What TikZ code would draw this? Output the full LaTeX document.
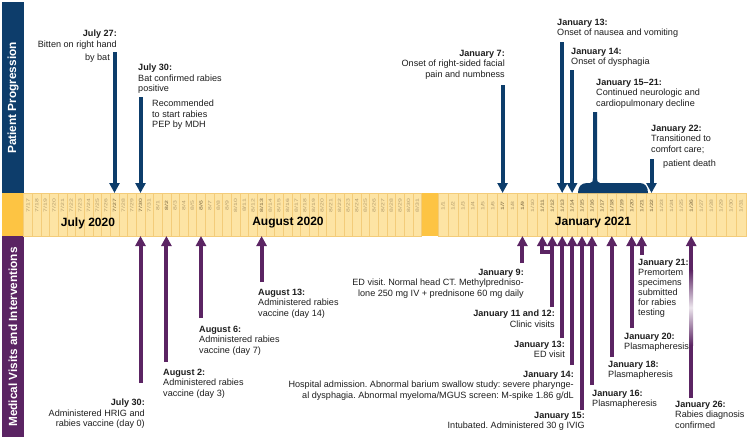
\documentclass[tikz,border=0pt]{standalone}
\usepackage{fontspec}
\setmainfont{Liberation Sans}
\usetikzlibrary{arrows.meta}
\definecolor{pblue}{HTML}{0D3D6B}
\definecolor{ppurple}{HTML}{5B2463}
\definecolor{oDark}{HTML}{FDC443}
\definecolor{oLight}{HTML}{FDE4A4}
\definecolor{oLine}{HTML}{F3CC7A}
\definecolor{dtext}{HTML}{B39C6C}
\definecolor{dtextB}{HTML}{7A6640}
\definecolor{txt}{HTML}{1E1E1E}
\frenchspacing
\begin{document}
\begin{tikzpicture}[x=1pt,y=-1pt,
  lbl/.style={inner sep=0pt, font=\fontsize{9.1}{10.6}\selectfont, text=txt},
  lblL/.style={lbl, anchor=north west, align=left},
  lblR/.style={lbl, anchor=north east, align=right},
  downarr/.style={draw=pblue, line width=4pt, -{Triangle[width=10pt,length=10pt]}},
  uparr/.style={draw=ppurple, line width=4pt, -{Triangle[width=10pt,length=10pt]}},
  datelbl/.style={inner sep=0pt, rotate=90, font=\fontsize{4.6}{5}\selectfont},
  sidelbl/.style={inner sep=0pt, rotate=90, text=white, font=\bfseries\fontsize{11.8}{13}\selectfont},
  monthlbl/.style={inner sep=0pt, text=black, font=\bfseries\fontsize{12}{14}\selectfont},
  cell/.style={fill=oLight, draw=oLine, line width=0.5pt}]
\useasboundingbox[fill=white] (0,0) rectangle (750,440);

% left column
\fill[pblue] (2,2) rectangle (24,193);
\fill[oDark] (2,193) rectangle (24,236);
\fill[ppurple] (2,236) rectangle (24,437);
\node[sidelbl] (pp) at (13,98) {Patient Progression};
\node[sidelbl] (mv) at (13,337) {Medical Visits and Interventions};

% July-August cells
\foreach \i in {0,...,45}{
  \pgfmathsetmacro\xl{23.7+8.65*\i}
  \pgfmathsetmacro\xr{\xl+8.65}
  \path[cell] (\xl,193) rectangle (\xr,236);
}
% gap cell
\fill[oDark] (421.6,193) rectangle (438,236);
% January cells
\foreach \j in {0,...,30}{
  \pgfmathsetmacro\xl{438+9.93*\j}
  \pgfmathsetmacro\xr{\xl+9.93}
  \path[cell] (\xl,193) rectangle (\xr,236);
}
% date labels
\foreach \i in {0,...,45}{
  \pgfmathsetmacro\xc{28+8.65*\i}
  \pgfmathtruncatemacro\dd{ifthenelse(\i<15,17+\i,\i-14)}
  \pgfmathtruncatemacro\mm{ifthenelse(\i<15,7,8)}
  \pgfmathtruncatemacro\ev{(\i==10)||(\i==13)||(\i==16)||(\i==20)||(\i==27)}
  \ifnum\ev=1 \def\dc{dtextB}\else\def\dc{dtext}\fi
  \node[datelbl, text=\dc] (da\i) at (\xc,205.5) {\scalebox{1.5}[1]{\mm/\dd}};
}
\foreach \j in {0,...,30}{
  \pgfmathsetmacro\xc{443+9.93*\j}
  \pgfmathtruncatemacro\dd{\j+1}
  \pgfmathtruncatemacro\ev{(\j==6)||(\j==8)||((\j>9)&&(\j<22))||(\j==25)}
  \ifnum\ev=1 \def\dc{dtextB}\else\def\dc{dtext}\fi
  \node[datelbl, text=\dc] (db\j) at (\xc,206) {\scalebox{1.5}[1]{1/\dd}};
}
\node[monthlbl] (jul) at (88,223) {July 2020};
\node[monthlbl] (aug) at (288,223) {August 2020};
\node[monthlbl] (jan) at (593,223) {January 2021};

% ---------- top events ----------
\coordinate (t727s) at (114.5,52);  \coordinate (t727e) at (114.5,193);
\coordinate (t730s) at (140.5,97);  \coordinate (t730e) at (140.5,193);
\coordinate (t17s) at (502.6,85);   \coordinate (t17e) at (502.6,193);
\coordinate (t113s) at (562.2,42);  \coordinate (t113e) at (562.2,193);
\coordinate (t114s) at (572.1,70);  \coordinate (t114e) at (572.1,193);
\coordinate (t122s) at (651.5,159); \coordinate (t122e) at (651.5,193);
\draw[downarr] (t727s) -- (t727e);
\draw[downarr] (t730s) -- (t730e);
\draw[downarr] (t17s) -- (t17e);
\draw[downarr] (t113s) -- (t113e);
\draw[downarr] (t114s) -- (t114e);
\draw[downarr] (t122s) -- (t122e);
% brace for January 15-21
\fill[pblue] (578,193) .. controls (578,187) and (581,183) .. (587,183) -- (590,183)
  .. controls (592.5,183) and (593,181) .. (593,178) -- (593,112) -- (597,112) -- (597,178)
  .. controls (597,181) and (597.5,183) .. (600,183) -- (640,183)
  .. controls (645,183) and (648,187) .. (648,193) -- cycle;

\node[lblR] (n727) at (117,29.7) {\textbf{July 27:}\\Bitten on right hand};
\node[lblR] (n727b) at (110,53.7) {by bat};
\node[lblL] (n730) at (138,63.7) {\textbf{July 30:}\\Bat confirmed rabies\\positive};
\node[lblL] (n730b) at (152,99.7) {Recommended\\to start rabies\\PEP by MDH};
\node[lblR] (n17) at (505,49.7) {\textbf{January 7:}\\Onset of right-sided facial\\pain and numbness};
\node[lblL] (n113) at (557,18.7) {\textbf{January 13:}\\Onset of nausea and vomiting};
\node[lblL] (n114) at (571,47.7) {\textbf{January 14:}\\Onset of dysphagia};
\node[lblL] (n11521) at (596,78.7) {\textbf{January 15–21:}\\Continued neurologic and\\cardiopulmonary decline};
\node[lblL] (n122) at (651,124.7) {\textbf{January 22:}\\Transitioned to\\comfort care;};
\node[lblL] (n122b) at (663,159.7) {patient death};

% ---------- bottom events ----------
\coordinate (b730s) at (140.5,383); \coordinate (b730e) at (140.5,236);
\coordinate (b82s) at (166.4,362);  \coordinate (b82e) at (166.4,236);
\coordinate (b86s) at (201,318);    \coordinate (b86e) at (201,236);
\coordinate (b813s) at (261.6,282); \coordinate (b813e) at (261.6,236);
\coordinate (b19s) at (522.4,263);  \coordinate (b19e) at (522.4,236);
\coordinate (b111k) at (542.3,252); \coordinate (b111e) at (542.3,236);
\coordinate (b112k) at (552.2,252);
\coordinate (b112s) at (552.2,307); \coordinate (b112e) at (552.2,236);
\coordinate (b113s) at (562.2,338); \coordinate (b113e) at (562.2,236);
\coordinate (b114s) at (572.1,365); \coordinate (b114e) at (572.1,236);
\coordinate (b115s) at (582,410);   \coordinate (b115e) at (582,236);
\coordinate (b116s) at (591.9,385); \coordinate (b116e) at (591.9,236);
\coordinate (b118s) at (611.8,357); \coordinate (b118e) at (611.8,236);
\coordinate (b120s) at (631.6,328); \coordinate (b120e) at (631.6,236);
\coordinate (b121s) at (641.6,255); \coordinate (b121e) at (641.6,236);
\coordinate (b126s) at (691.2,398); \coordinate (b126e) at (691.2,236);
\draw[uparr] (b730s) -- (b730e);
\draw[uparr] (b82s) -- (b82e);
\draw[uparr] (b86s) -- (b86e);
\draw[uparr] (b813s) -- (b813e);
\draw[uparr] (b19s) -- (b19e);
\draw[uparr] (b112s) -- (b112e);
\draw[uparr, line join=miter] (b112k) -- (b111k) -- (b111e);
\draw[uparr] (b113s) -- (b113e);
\draw[uparr] (b114s) -- (b114e);
\draw[uparr] (b115s) -- (b115e);
\draw[uparr] (b116s) -- (b116e);
\draw[uparr] (b118s) -- (b118e);
\draw[uparr] (b120s) -- (b120e);
\draw[uparr] (b121s) -- (b121e);
\draw[uparr] (b126s) -- (b126e);
\shade[top color=ppurple, bottom color=ppurple, middle color=ppurple!12] (689.2,270) rectangle (693.2,345);

\node[lblR] (m730) at (145,398.7) {\textbf{July 30:}\\Administered HRIG and\\rabies vaccine (day 0)};
\node[lblL] (m82) at (163,368.7) {\textbf{August 2:}\\Administered rabies\\vaccine (day 3)};
\node[lblL] (m86) at (199,325.7) {\textbf{August 6:}\\Administered rabies\\vaccine (day 7)};
\node[lblL] (m813) at (258,288.7) {\textbf{August 13:}\\Administered rabies\\vaccine (day 14)};
\node[lblR] (m19) at (524,268.7) {\textbf{January 9:}\\ED visit. Normal head CT. Methylpredniso-\\lone 250 mg IV + prednisone 60 mg daily};
\node[lblR] (m1112) at (555,309.7) {\textbf{January 11 and 12:}\\Clinic visits};
\node[lblR] (m113) at (565,340.7) {\textbf{January 13:}\\ED visit};
\node[lblR] (m114) at (574,370.7) {\textbf{January 14:}\\Hospital admission. Abnormal barium swallow study: severe pharynge-\\al dysphagia. Abnormal myeloma/MGUS screen: M-spike 1.86 g/dL};
\node[lblR] (m115) at (585,411.7) {\textbf{January 15:}\\Intubated. Administered 30 g IVIG};
\node[lblL] (m116) at (592,389.7) {\textbf{January 16:}\\Plasmapheresis};
\node[lblL] (m118) at (608,360.7) {\textbf{January 18:}\\Plasmapheresis};
\node[lblL] (m120) at (624,332.7) {\textbf{January 20:}\\Plasmapheresis};
\node[lblL, font=\fontsize{9.1}{10.1}\selectfont] (m121) at (638,258.7) {\textbf{January 21:}\\Premortem\\specimens\\submitted\\for rabies\\testing};
\node[lblL] (m126) at (675,400.7) {\textbf{January 26:}\\Rabies diagnosis\\confirmed};
\end{tikzpicture}
\end{document}
